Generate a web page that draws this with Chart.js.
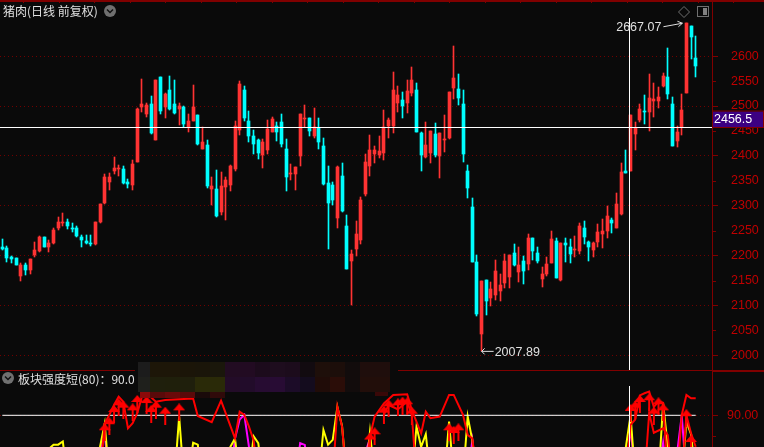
<!DOCTYPE html>
<html>
<head>
<meta charset="utf-8">
<title>猪肉</title>
<script src="https://cdn.jsdelivr.net/npm/chart.js@4/dist/chart.umd.min.js"></script>
<style>
    html, body { margin: 0; padding: 0; background: #0a0a0a; overflow: hidden; }
    canvas { display: block; }
</style>
</head>
<body>
<canvas id="kline" width="764" height="447"></canvas>
<script>
// candele, in ordine di giorno
const candleOpen = [2217,2215,2197,2195,2159,2181,2171,2201,2209,2237,2217,2225,2255,2265,2267,2255,2255,2237,2229,2225,2223,2267,2305,2347,2369,2373,2373,2347,2341,2387,2499,2485,2505,2431,2559,2499,2533,2505,2495,2499,2457,2469,2483,2413,2421,2333,2333,2287,2337,2341,2373,2451,2533,2469,2439,2431,2401,2411,2447,2459,2467,2413,2363,2363,2399,2473,2477,2439,2455,2419,2345,2341,2275,2359,2259,2189,2213,2231,2323,2379,2403,2401,2405,2459,2459,2507,2513,2507,2527,2533,2445,2397,2405,2443,2399,2431,2435,2537,2535,2505,2369,2297,2187,2043,2151,2115,2121,2129,2145,2157,2205,2167,2189,2183,2235,2205,2153,2163,2185,2229,2151,2225,2217,2211,2209,2255,2227,2211,2227,2243,2249,2271,2255,2283,2369,2369,2443,2471,2491,2489,2511,2511,2541,2559,2505,2429,2457,2527,2661,2597];
const candleClose = [2214,2195,2193,2181,2181,2171,2193,2211,2237,2217,2225,2251,2267,2267,2259,2253,2239,2231,2225,2223,2267,2303,2357,2357,2375,2375,2345,2343,2383,2495,2505,2503,2445,2553,2491,2525,2495,2487,2501,2463,2469,2499,2423,2427,2339,2339,2279,2339,2351,2379,2459,2545,2475,2439,2423,2405,2427,2453,2473,2447,2423,2357,2365,2377,2485,2477,2449,2457,2427,2343,2305,2311,2377,2289,2173,2203,2243,2311,2387,2411,2411,2409,2457,2471,2533,2523,2501,2531,2553,2447,2401,2421,2449,2401,2445,2433,2529,2557,2517,2403,2335,2187,2083,2149,2109,2133,2169,2141,2189,2201,2181,2181,2169,2235,2209,2189,2163,2183,2233,2155,2225,2221,2203,2213,2259,2237,2217,2225,2247,2249,2279,2265,2303,2367,2365,2483,2455,2495,2489,2517,2515,2519,2561,2525,2419,2447,2493,2667.07,2639,2581];
const candleHigh = [2234,2219,2199,2195,2186,2186,2193,2227,2239,2237,2231,2255,2277,2285,2273,2265,2259,2241,2241,2241,2267,2303,2363,2365,2397,2381,2379,2353,2391,2497,2555,2507,2521,2553,2559,2527,2561,2553,2507,2501,2485,2543,2483,2457,2431,2357,2371,2367,2357,2381,2469,2551,2541,2491,2451,2433,2433,2471,2479,2467,2485,2433,2383,2377,2485,2503,2477,2497,2477,2435,2379,2347,2379,2385,2281,2211,2269,2317,2403,2441,2419,2439,2493,2475,2569,2541,2529,2553,2579,2547,2447,2467,2449,2465,2445,2483,2529,2621,2565,2532,2381,2315,2201,2149,2151,2147,2191,2163,2203,2201,2223,2217,2199,2243,2235,2217,2177,2197,2249,2235,2225,2235,2233,2239,2265,2269,2229,2227,2263,2273,2299,2275,2325,2385,2411,2483,2467,2505,2523,2565,2547,2539,2567,2617,2519,2459,2525,2667.07,2661,2641];
const candleLow = [2211,2187,2185,2181,2149,2161,2163,2197,2207,2217,2207,2223,2251,2259,2253,2247,2237,2217,2223,2219,2221,2265,2303,2331,2363,2359,2343,2335,2331,2387,2489,2479,2443,2431,2485,2477,2493,2485,2461,2457,2447,2469,2421,2413,2335,2301,2277,2281,2271,2329,2369,2441,2469,2427,2403,2393,2375,2403,2447,2429,2417,2329,2351,2331,2379,2457,2439,2435,2413,2341,2213,2301,2255,2287,2173,2101,2199,2223,2319,2359,2385,2395,2391,2435,2445,2489,2475,2487,2521,2447,2369,2395,2385,2397,2355,2407,2433,2515,2503,2387,2315,2187,2079,2007.89,2081,2099,2111,2109,2135,2135,2179,2147,2143,2171,2191,2185,2137,2159,2185,2155,2149,2187,2185,2197,2203,2223,2189,2197,2217,2215,2235,2245,2255,2281,2365,2369,2411,2467,2463,2449,2479,2497,2539,2515,2419,2417,2441,2527,2595,2559];

const priceTicks = [2000,2050,2100,2150,2200,2250,2300,2350,2400,2450,2500,2550,2600];
const lowTicks = [80,90];
const lastPrice = 2456.5;
const crossIndex = 135;

// indice di forza: coppie [giorno, valore] lette dal riquadro basso (60 = sotto il bordo)
const redLine = [[21,60],[22,86.2],[23,90.2],[24,94.9],[25,98.9],[26,96.5],[27,83.8],[28,86.2],[29,91],[30,98.9],[31,100.5],[33,96.5],[35,97.3],[38,97.6],[41,98],[42,89.7],[45,86.7],[47,97],[50,79],[51,91.7],[52,90.2],[53,84.6],[54,78],[55,60],[71,60],[72,94.1],[73,84.6],[74,60],[78,60],[79,79.8],[80,89.4],[82,95.7],[84,99.7],[87,100],[88,92.5],[90,81.4],[91,91.7],[92,88.6],[94,89.4],[96,99.7],[97,99.7],[99,90.2],[100,80.6],[101,79],[102,60],[134,60],[135,85.4],[136,88],[137,99.5],[138,100.5],[139,101.3],[140,94],[141,96.5],[142,96],[143,60],[145,60],[146,90.2],[147,99.7],[148,98.1],[149,98.1]];
const redAlt = [[82,90.3],[83,94.9],[85,92.9],[87,96.5],[88,90],[89,60],[138,60],[139,91],[140,81.7],[142,83.8],[143,80.6],[144,60],[146,60],[147,90],[148,81.4],[149,75]];
const yellowLine = [[9,60],[10,74],[11,76],[12,76],[13,77.5],[14,60],[20,60],[21,75],[22,86],[23,60],[37,60],[38,89.4],[39,60],[40,60],[41,77],[42,76],[43,60],[48,60],[49,75],[50,79],[51,60],[53,60],[54,80],[55,76.7],[56,60],[68,60],[69,83],[70,76],[71,78.3],[72,94],[73,85],[74,60],[78,60],[79,82],[80,60],[88,60],[89,84.6],[90,75],[91,81],[92,60],[95,60],[96,87],[97,60],[99,60],[100,89.4],[101,78],[102,60],[133,60],[134,75],[135,90],[136,60],[141,60],[142,95.7],[143,75],[144,60],[146,60],[147,87],[148,81],[149,60]];
const magentaLine = [[20,60],[21,72],[22,81],[23,60],[49,60],[50,79],[51,88],[52,90.2],[53,75],[54,60],[63,60],[64,76.7],[65,75.9],[66,60],[77,60],[78,72],[79,79],[80,60],[100,60],[101,78],[102,60],[134,60],[135,85],[136,60],[141,60],[142,77],[143,60],[144,60],[145,72],[146,90],[147,60]];
const levelLine = [[0,90],[149,90]];
const arrowIdx = [22,23,24,25,26,28,29,31,32,33,35,38,79,80,82,83,85,86,87,88,96,97,98,135,136,137,139,140,141,142,147,148];
const arrowVal = [81.9,84.8,90.6,93.8,92.7,91.4,95.4,94.9,90.6,92.7,89.8,91.4,77.5,80,90.3,93.3,93.8,94.6,94.3,89.8,81.9,80.6,81.9,91.1,92.7,95.4,96.2,89.8,94.3,91.4,88.6,76.3];

// mosaico sopra il nome dell'indicatore
const mosaicRow1 = ['#1c1c1c','#1d1608','#1d1608','#1b1508','#1a1509','#1a170b','#220c22','#220b22','#1c0b1c','#1e0d1e','#1c0c1c','#120b10','#1e0f0a','#1c0e0a','#120c0c','#1f0e0c','#1f0e0c'];
const mosaicRow2 = ['#1f201c','#1f1f0c','#1f1f0b','#1f1f0c','#2a2a08','#2a2a08','#230c28','#220c2a','#270c32','#280c34','#1c0c28','#140c1e','#200c08','#2b0d08','#120c0c','#220e0a','#220e0a'];
const mosaicRow3 = ['#8b0a0a','#5a0a0a','#6a0a0a','#5a0a0a','#1a0a0a','#300a0a'];

const RED = '#ff3333';
const CYAN = '#00ffff';
const FRAME = '#800000';
const GRID = '#700000';
const LABEL = '#c00000';
const TEXT = '#e0e0e0';
const NUM_FONT = '12.5px "Liberation Sans"';
const CJK_FONT = '12px "Noto Sans CJK SC"';

const labels = [];
for (let i = 0; i < 153; i++) labels.push(i);

function sparse(pairs) {
    const out = labels.map(() => null);
    pairs.forEach(p => { out[p[0]] = p[1]; });
    return out;
}

const arrowPairs = arrowIdx.map((idx, i) => [idx, arrowVal[i]]);
const barColors = candleOpen.map((o, i) => candleClose[i] >= o ? RED : CYAN);

// freccia rossa degli acquisti
const arrowImg = document.createElement('canvas');
arrowImg.width = 12;
arrowImg.height = 18;
const arrowCtx = arrowImg.getContext('2d');
arrowCtx.fillStyle = '#ff0000';
arrowCtx.beginPath();
arrowCtx.moveTo(6, 0);
arrowCtx.lineTo(12, 7);
arrowCtx.lineTo(0, 7);
arrowCtx.closePath();
arrowCtx.fill();
arrowCtx.fillRect(5, 7, 2, 11);

function lineSet(pairs, color, width) {
    return {
        type: 'line',
        yAxisID: 'yLow',
        data: sparse(pairs),
        borderColor: color,
        borderWidth: width,
        pointRadius: 0,
        tension: 0,
        spanGaps: true
    };
}

// porta le barre sui pixel interi, come nel riferimento
const snapBars = {
    id: 'snapBars',
    beforeDatasetsDraw(chart) {
        [0, 1].forEach(d => {
            chart.getDatasetMeta(d).data.forEach(bar => {
                bar.x = Math.floor(bar.x) + 0.5;
                bar.y = Math.round(bar.y);
                bar.base = Math.round(bar.base);
                if (bar.y === bar.base) bar.base = bar.y + 1;
            });
        });
    }
};

const overlay = {
    id: 'overlay',
    afterDraw(chart) {
        const ctx = chart.ctx;
        const x = chart.scales.x;
        const y = chart.scales.y;
        const yLow = chart.scales.yLow;
        ctx.save();

        // tacche corte dei 50
        ctx.strokeStyle = FRAME;
        ctx.lineWidth = 1;
        priceTicks.forEach(t => {
            if (t % 100 === 0) return;
            const py = Math.round(y.getPixelForValue(t)) + 0.5;
            ctx.beginPath(); ctx.moveTo(712, py); ctx.lineTo(716, py); ctx.stroke();
        });
        const py80 = Math.round(yLow.getPixelForValue(80)) + 0.5;
        ctx.beginPath(); ctx.moveTo(712, py80); ctx.lineTo(716, py80); ctx.stroke();

        // mirino
        const crossX = Math.floor(x.getPixelForValue(crossIndex)) - 0.5;
        const crossY = Math.floor(y.getPixelForValue(lastPrice)) + 0.5;
        ctx.strokeStyle = '#ffffff';
        ctx.beginPath();
        ctx.moveTo(0, crossY); ctx.lineTo(712, crossY);
        ctx.moveTo(crossX, 18); ctx.lineTo(crossX, 371);
        ctx.moveTo(crossX, 386); ctx.lineTo(crossX, 447);
        ctx.stroke();

        // cornice
        ctx.fillStyle = FRAME;
        ctx.fillRect(0, 0, 764, 2);
        ctx.fillRect(712, 0, 1, 447);
        ctx.fillRect(0, 370, 135, 1);
        ctx.fillRect(398, 370, 314, 1);
        ctx.fillRect(713, 370, 51, 2);
        for (let tx = 23; tx < 764; tx += 35.5) ctx.fillRect(Math.round(tx), 0, 1, 3);

        // mosaico
        [mosaicRow1, mosaicRow2].forEach((row, r) => {
            row.forEach((c, i) => {
                ctx.fillStyle = c;
                ctx.fillRect(135 + i * 15 + (i === 0 ? 3 : 0), 362 + r * 15, i === 0 ? 12 : 15, 15);
            });
        });
        mosaicRow3.forEach((c, i) => {
            ctx.fillStyle = c;
            ctx.fillRect(135 + i * 15 + (i === 0 ? 5 : 0), 392, i === 0 ? 10 : 15, 6);
        });
        ctx.fillStyle = '#3a0808';
        ctx.fillRect(375, 392, 13, 4);

        // prezzo corrente
        ctx.fillStyle = '#3c0082';
        ctx.fillRect(713, crossY - 16, 51, 16);
        ctx.strokeStyle = FRAME;
        ctx.strokeRect(712.5, crossY - 16.5, 51, 16.5);
        ctx.fillStyle = '#ffffff';
        ctx.font = NUM_FONT;
        ctx.textAlign = 'left';
        ctx.textBaseline = 'middle';
        ctx.fillText(lastPrice.toFixed(1), 714, crossY - 8);

        // titoli
        ctx.fillStyle = TEXT;
        ctx.font = CJK_FONT;
        ctx.fillText('猪肉(日线 前复权)', 3, 11);
        ctx.fillText('板块强度短(80)：90.0', 18, 379);

        // bottoni
        [[110, 11], [8, 378]].forEach(b => {
            ctx.fillStyle = '#707070';
            ctx.beginPath(); ctx.arc(b[0], b[1], 6, 0, Math.PI * 2); ctx.fill();
            ctx.strokeStyle = '#111111';
            ctx.lineWidth = 1.5;
            ctx.beginPath();
            ctx.moveTo(b[0] - 3, b[1] - 1.5); ctx.lineTo(b[0], b[1] + 1.5); ctx.lineTo(b[0] + 3, b[1] - 1.5);
            ctx.stroke();
        });
        ctx.lineWidth = 1;
        ctx.strokeStyle = '#707070';
        ctx.beginPath();
        ctx.moveTo(684, 6.5); ctx.lineTo(689.5, 12); ctx.lineTo(684, 17.5); ctx.lineTo(678.5, 12); ctx.closePath();
        ctx.stroke();
        ctx.strokeRect(697.5, 6.5, 11, 10);
        ctx.fillStyle = '#808080';
        ctx.fillRect(703, 8, 4, 7);

        // massimo e minimo
        const hiIdx = candleHigh.indexOf(Math.max(...candleHigh));
        const loIdx = candleLow.indexOf(Math.min(...candleLow));
        const hiX = x.getPixelForValue(hiIdx);
        const hiY = y.getPixelForValue(candleHigh[hiIdx]);
        const loX = x.getPixelForValue(loIdx);
        const loY = y.getPixelForValue(candleLow[loIdx]);
        ctx.fillStyle = TEXT;
        ctx.strokeStyle = TEXT;
        ctx.font = NUM_FONT;
        ctx.textAlign = 'right';
        ctx.fillText(candleHigh[hiIdx].toFixed(2), hiX - 25, hiY + 5);
        ctx.beginPath();
        ctx.moveTo(hiX - 23, hiY + 4); ctx.lineTo(hiX - 4, hiY + 0.5);
        ctx.moveTo(hiX - 9, hiY - 1.5); ctx.lineTo(hiX - 4, hiY + 0.5); ctx.lineTo(hiX - 8, hiY + 4);
        ctx.stroke();
        ctx.textAlign = 'left';
        ctx.fillText(candleLow[loIdx].toFixed(2), loX + 13, loY + 1);
        ctx.beginPath();
        ctx.moveTo(loX + 12, loY); ctx.lineTo(loX, loY);
        ctx.moveTo(loX + 3, loY - 3); ctx.lineTo(loX, loY); ctx.lineTo(loX + 3, loY + 3);
        ctx.stroke();

        ctx.restore();
    }
};

new Chart(document.getElementById('kline'), {
    type: 'bar',
    data: {
        labels: labels,
        datasets: [
            {
                // corpi
                data: candleOpen.map((o, i) => [o, candleClose[i]]),
                backgroundColor: barColors,
                barThickness: 3,
                grouped: false,
                borderSkipped: false,
                order: 5
            },
            {
                // stoppini
                data: candleLow.map((l, i) => [l, candleHigh[i]]),
                backgroundColor: barColors,
                barThickness: 1,
                grouped: false,
                borderSkipped: false,
                order: 6
            },
            Object.assign(lineSet(magentaLine, '#ff00ff', 2), { order: 4 }),
            Object.assign(lineSet(yellowLine, '#ffff00', 2), { order: 3 }),
            Object.assign(lineSet(levelLine, '#ffffff', 1), { order: 2.5 }),
            Object.assign(lineSet(redAlt, '#ff0000', 2), { order: 2 }),
            Object.assign(lineSet(redLine, '#ff0000', 2), { order: 1 }),
            {
                type: 'line',
                yAxisID: 'yLow',
                data: sparse(arrowPairs),
                showLine: false,
                pointStyle: arrowImg,
                pointRadius: 6,
                order: 0
            }
        ]
    },
    plugins: [snapBars, overlay],
    options: {
        responsive: false,
        animation: false,
        events: [],
        layout: { padding: 0, autoPadding: false },
        plugins: { legend: { display: false }, tooltip: { enabled: false } },
        scales: {
            x: {
                type: 'category',
                offset: true,
                display: false,
                grid: { display: false }
            },
            y: {
                position: 'right',
                stack: 'pane',
                stackWeight: 371,
                min: 1968.5,
                max: 2712.7,
                afterBuildTicks(scale) { scale.ticks = priceTicks.map(v => ({ value: v })); },
                afterFit(scale) { scale.width = 52; scale.paddingTop = 0; scale.paddingBottom = 0; },
                border: { display: false, dash: [1, 3] },
                grid: {
                    tickLength: 6,
                    color: c => c.tick && c.tick.value % 100 === 0 ? GRID : 'transparent',
                    tickColor: c => c.tick && c.tick.value % 100 === 0 ? FRAME : 'transparent'
                },
                ticks: {
                    color: LABEL,
                    padding: 13,
                    font: { family: 'Liberation Sans', size: 12.5 },
                    autoSkip: false,
                    callback: v => String(v)
                }
            },
            yLow: {
                position: 'right',
                stack: 'pane',
                stackWeight: 76,
                min: 74.9,
                max: 111.1,
                afterBuildTicks(scale) { scale.ticks = lowTicks.map(v => ({ value: v })); },
                afterFit(scale) { scale.width = 52; scale.paddingTop = 0; scale.paddingBottom = 0; },
                border: { display: false, dash: [1, 3] },
                grid: {
                    tickLength: 6,
                    color: c => c.tick && c.tick.value === 90 ? GRID : 'transparent',
                    tickColor: c => c.tick && c.tick.value === 90 ? FRAME : 'transparent'
                },
                ticks: {
                    color: LABEL,
                    padding: 9,
                    font: { family: 'Liberation Sans', size: 12.5 },
                    autoSkip: false,
                    callback: v => v === 90 ? '90.00' : ''
                }
            }
        }
    }
});
</script>
</body>
</html>
